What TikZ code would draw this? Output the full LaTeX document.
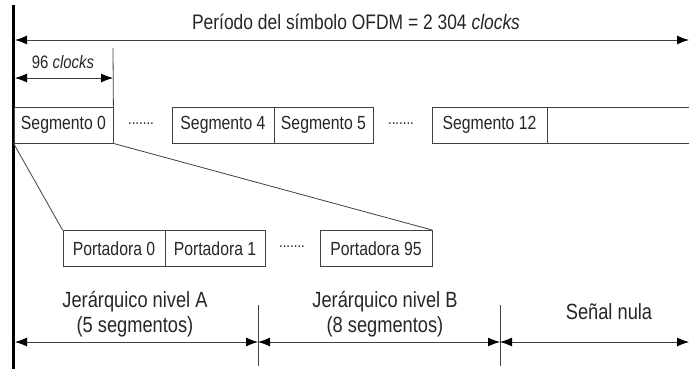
\documentclass[tikz,border=0pt]{standalone}
\usepackage{fontspec}
\setmainfont[FakeStretch=0.83]{Liberation Sans}
\usetikzlibrary{arrows.meta}
\begin{document}
\begin{tikzpicture}[x=1pt,y=-1pt,font=\fontsize{19}{21}\selectfont,
    line/.style={draw=black!75, thick},
    dim/.style={line, {Latex[length=12pt,width=9pt,color=black]}-{Latex[length=12pt,width=9pt,color=black]}},
    big/.style={font=\fontsize{22}{25}\selectfont}]

      \useasboundingbox (0,0) rectangle (689,369);
      \draw[line width=3pt] (13,5) -- (13,369);

      \begin{scope}[every node/.style={draw=black!75, thick, text=black!85, minimum height=36pt, inner sep=0pt}]
        \node[minimum width=99pt]  (s0)  at (63.5,125) {Segmento 0};
        \node[minimum width=102pt] (s4)  at (223,125)  {Segmento 4};
        \node[minimum width=99pt]  (s5)  at (323.5,125) {Segmento 5};
        \node[minimum width=115pt] (s12) at (489.5,125) {Segmento 12};
        \node[minimum width=142pt] (sx)  at (618,125)  {};
        \node[minimum width=102pt] (p0)  at (114,248.5) {Portadora 0};
        \node[minimum width=100pt] (p1)  at (215,248.5) {Portadora 1};
        \node[minimum width=112pt] (p95) at (376,248.5) {Portadora 95};
      \end{scope}

      \begin{scope}[every node/.style={inner sep=0pt, text=black!85}]
        \node[font=\fontsize{16}{18}\selectfont] (d1) at (141,124) {.......};
        \node[font=\fontsize{16}{18}\selectfont] (d2) at (401,124) {.......};
        \node[font=\fontsize{16}{18}\selectfont] (d3) at (292,247) {.......};
        \node[font=\fontsize{21}{23}\selectfont] (t0) at (356,22) {Período del símbolo OFDM = 2 304 \textit{clocks}};
        \node[font=\fontsize{18}{20}\selectfont] (t1) at (63,62) {96 \textit{clocks}};
        \node[big, align=center] (ta) at (135,314) {Jerárquico nivel A\\(5 segmentos)};
        \node[big, align=center] (tb) at (385,314) {Jerárquico nivel B\\(8 segmentos)};
        \node[big] (tc) at (609,312) {Señal nula};
      \end{scope}

      \coordinate (a0) at (15,40);
      \coordinate (a1) at (689,40);
      \coordinate (b0) at (15,78);
      \coordinate (b1) at (113,78);
      \coordinate (c0) at (15,342);
      \coordinate (c1) at (258,342);
      \coordinate (c2) at (500,342);
      \coordinate (c3) at (689,342);

      \path[line] (s0.south west) -- (p0.north west);
      \path[line] (s0.south east) -- (p95.north east);
      \path[line] (113,48) -- (s0.north east);
      \path[line] (258,305) -- (258,366);
      \path[line] (500,305) -- (500,366);

      \path[dim] (a0) -- (a1);
      \path[dim] (b0) -- (b1);
      \path[dim] (c0) -- (c1);
      \path[dim] (c1) -- (c2);
      \path[dim] (c2) -- (c3);

    \end{tikzpicture}
\end{document}
